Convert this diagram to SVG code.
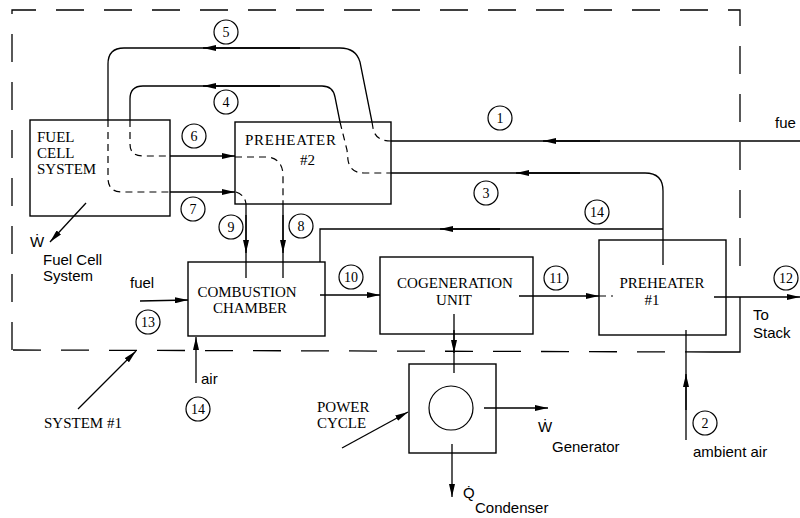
<svg xmlns="http://www.w3.org/2000/svg" width="800" height="518" viewBox="0 0 800 518">
<style>
.ln{fill:none;stroke:#000;stroke-width:1.3}
.ds{fill:none;stroke:#000;stroke-width:1.2;stroke-dasharray:7 5}
.bd{fill:none;stroke:#000;stroke-width:1.3;stroke-dasharray:28 20}
.bx{fill:#fff;stroke:#000;stroke-width:1.4}
.sf{font-family:"Liberation Serif","DejaVu Serif",serif;font-size:15px;fill:#000}
.ss{font-family:"Liberation Sans","DejaVu Sans",sans-serif;font-size:15px;fill:#000}
.num{font-family:"Liberation Serif","DejaVu Serif",serif;font-size:14px;fill:#000;text-anchor:middle}
.cl{fill:#fff;stroke:#000;stroke-width:1.2}
</style>
<defs>
<marker id="ah" viewBox="0 0 13 6" refX="13" refY="3" markerWidth="13" markerHeight="6" orient="auto" markerUnits="userSpaceOnUse"><path d="M0,0 L13,3 L0,6 z" fill="#000"/></marker>
</defs>
<rect width="800" height="518" fill="#fff"/>
<g id="boundary">
<path class="bd" d="M12,350 L12,10 L740,10 L740,285"/>
<path class="bd" d="M713,352 L12,350"/>
<path class="ln" d="M740,297 L740,352 L713,352"/>
</g>
<g id="fuel-cell-system">
<rect class="bx" x="30" y="120" width="140" height="96"/>
<text class="sf" x="37" y="142">FUEL</text>
<text class="sf" x="37" y="158">CELL</text>
<text class="sf" x="37" y="174">SYSTEM</text>
</g>
<g id="preheater-2">
<rect class="bx" x="235" y="122" width="156" height="82"/>
<text class="sf" x="245" y="145" textLength="91">PREHEATER</text>
<text class="sf" x="300" y="165" font-size="14">#2</text>
</g>
<g id="combustion-chamber">
<rect class="bx" x="188" y="262" width="137" height="74"/>
<text class="sf" x="247" y="297" text-anchor="middle">COMBUSTION</text>
<text class="sf" x="250" y="313" text-anchor="middle">CHAMBER</text>
</g>
<g id="cogeneration-unit">
<rect class="bx" x="380" y="257" width="153" height="77"/>
<text class="sf" x="455" y="288" text-anchor="middle">COGENERATION</text>
<text class="sf" x="454" y="305" text-anchor="middle">UNIT</text>
</g>
<g id="preheater-1">
<rect class="bx" x="599" y="240" width="127" height="95"/>
<text class="sf" x="662" y="288" text-anchor="middle">PREHEATER</text>
<text class="sf" x="652" y="305" text-anchor="middle" font-size="14">#1</text>
</g>
<g id="power-cycle">
<rect class="bx" x="409" y="364" width="87" height="89"/>
<circle class="cl" cx="451" cy="408" r="22"/>
</g>
<g id="connectors">
<path class="ln" d="M372,122 L360,62 Q356,48 340,48 L124,48 Q108,48 108,64 L108,120"/>
<path class="ln" d="M300,48 L203,48" marker-end="url(#ah)"/>
<path class="ds" d="M108,120 L108,178 Q108,192 122,192 L170,192"/>
<path class="ln" d="M170,192 L235,192" marker-end="url(#ah)"/>
<path class="ds" d="M372,122 L373,128 Q375,141 391,141"/>
<path class="ln" d="M800,141 L391,141"/>
<path class="ln" d="M600,141 L543,141" marker-end="url(#ah)"/>
<path class="ln" d="M340,122 L335,97 Q333,86 322,86 L143,86 Q130,86 130,99 L130,120"/>
<path class="ln" d="M280,86 L203,86" marker-end="url(#ah)"/>
<path class="ds" d="M130,120 L130,144 Q130,156 143,156 L170,156"/>
<path class="ln" d="M170,156 L235,156" marker-end="url(#ah)"/>
<path class="ds" d="M340,122 L347,150 L348,160 Q350,173 364,173 L391,173"/>
<path class="ln" d="M391,173 L645,173 Q663,173 663,191 L663,265"/>
<path class="ln" d="M580,173 L516,173" marker-end="url(#ah)"/>
<path class="ln" d="M663,229 L320,229 L320,262"/>
<path class="ln" d="M500,229 L440,229" marker-end="url(#ah)"/>
<path class="ds" d="M235,157 L268,157 Q283,159 283,176 L283,204"/>
<path class="ds" d="M236,192 Q245,195 246,204"/>
<path class="ln" d="M246,204 L246,278"/>
<path class="ln" d="M246,215 L246,253" marker-end="url(#ah)"/>
<path class="ln" d="M283,204 L283,278"/>
<path class="ln" d="M283,215 L283,253" marker-end="url(#ah)"/>
<path class="ln" d="M320,295 L380,295" marker-end="url(#ah)"/>
<path class="ln" d="M519,296 L599,296" marker-end="url(#ah)"/>
<path class="ds" d="M599,296 L613,296"/>
<path class="ln" d="M714,297 L800,297" marker-end="url(#ah)"/>
<path class="ln" d="M454,314 L454,373"/>
<path class="ln" d="M454,330 L454,353" marker-end="url(#ah)"/>
<path class="ln" d="M484,408 L548,408" marker-end="url(#ah)"/>
<path class="ln" d="M452,444 L452,497" marker-end="url(#ah)"/>
<path class="ln" d="M86,203 L50,242" marker-end="url(#ah)"/>
<path class="ln" d="M78,409 L136,351" marker-end="url(#ah)"/>
<path class="ln" d="M342,448 L408,412" marker-end="url(#ah)"/>
<path class="ln" d="M140,301 L188,300" marker-end="url(#ah)"/>
<path class="ln" d="M196,383 L196,337" marker-end="url(#ah)"/>
<path class="ln" d="M686,440 L686,330"/>
<path class="ln" d="M686,410 L686,374" marker-end="url(#ah)"/>
</g>
<g id="stream-labels">
<circle class="cl" cx="226" cy="32" r="12"/><text class="num" x="226" y="37">5</text>
<circle class="cl" cx="226" cy="102" r="12"/><text class="num" x="226" y="107">4</text>
<circle class="cl" cx="194" cy="136" r="12"/><text class="num" x="194" y="141">6</text>
<circle class="cl" cx="193" cy="209" r="12"/><text class="num" x="193" y="214">7</text>
<circle class="cl" cx="500" cy="118" r="12"/><text class="num" x="500" y="123">1</text>
<circle class="cl" cx="486" cy="193" r="12"/><text class="num" x="486" y="198">3</text>
<circle class="cl" cx="597" cy="212" r="12"/><text class="num" x="597" y="217">14</text>
<circle class="cl" cx="231" cy="227" r="12"/><text class="num" x="231" y="232">9</text>
<circle class="cl" cx="301" cy="226" r="12"/><text class="num" x="301" y="231">8</text>
<circle class="cl" cx="351" cy="277" r="12"/><text class="num" x="351" y="282">10</text>
<circle class="cl" cx="556" cy="278" r="12"/><text class="num" x="556" y="283">11</text>
<circle class="cl" cx="786" cy="278" r="12"/><text class="num" x="786" y="283">12</text>
<circle class="cl" cx="148" cy="322" r="12"/><text class="num" x="148" y="327">13</text>
<circle class="cl" cx="198" cy="409" r="12"/><text class="num" x="198" y="414">14</text>
<circle class="cl" cx="705" cy="423" r="12"/><text class="num" x="705" y="428">2</text>
</g>
<g id="text-labels">
<text class="ss" x="30" y="247">Ẇ</text>
<text class="ss" x="43" y="265">Fuel Cell</text>
<text class="ss" x="43" y="281">System</text>
<text class="ss" x="130" y="288">fuel</text>
<text class="ss" x="201" y="384">air</text>
<text class="ss" x="775" y="128">fue</text>
<text class="ss" x="753" y="320">To</text>
<text class="ss" x="753" y="338">Stack</text>
<text class="ss" x="538" y="432">Ẇ</text>
<text class="ss" x="552" y="452">Generator</text>
<text class="ss" x="463" y="498">Q̇</text>
<text class="ss" x="475" y="513">Condenser</text>
<text class="ss" x="693" y="457">ambient air</text>
<text class="sf" x="44" y="428">SYSTEM #1</text>
<text class="sf" x="317" y="412">POWER</text>
<text class="sf" x="317" y="428">CYCLE</text>
</g>
</svg>
